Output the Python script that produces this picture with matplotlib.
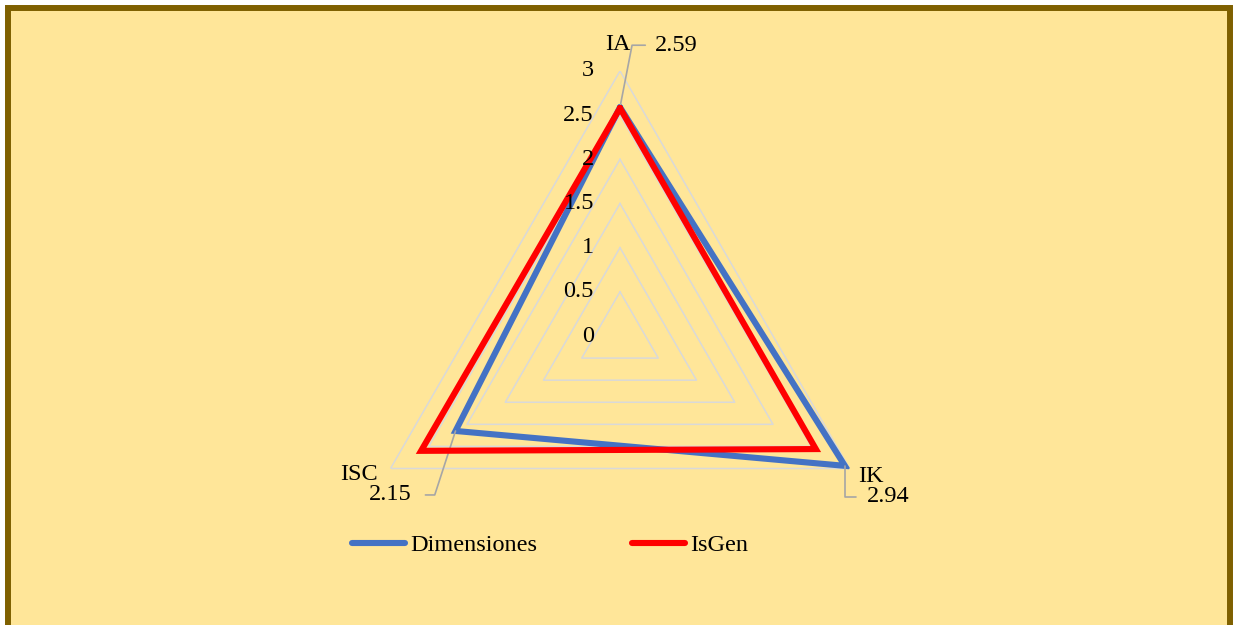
import numpy as np
import matplotlib
matplotlib.use("Agg")
import matplotlib.pyplot as plt
from matplotlib.patches import Rectangle

plt.rcParams['font.family'] = ['Liberation Serif', 'DejaVu Serif']

# datos
categorias = ['IA', 'IK', 'ISC']
dimensiones = [2.59, 2.94, 2.15]
isgen = [2.58, 2.56, 2.60]
niveles = [0.5, 1, 1.5, 2, 2.5, 3]
etiquetas_r = ['0', '0.5', '1', '1.5', '2', '2.5', '3']

W, H = 1233, 625
fig = plt.figure(figsize=(W / 100, H / 100), dpi=100, facecolor='white')

# fondo amarillo con borde marron
fig.patches.append(Rectangle((8 / W, -10 / H), 1222 / W, (H + 2) / H,
                             transform=fig.transFigure, facecolor='#FFE699',
                             edgecolor='#7F6000', linewidth=4.3, zorder=-5))

# ejes polares: centro en (620, 336) px, radio 265 px para r=3
cx, cy, R = 620, 336, 265
ax = fig.add_axes([(cx - R) / W, (H - cy - R) / H, 2 * R / W, 2 * R / H],
                  projection='polar')
ax.set_zorder(2)
ax.patch.set_alpha(0)
ax.grid(False)
ax.spines['polar'].set_visible(False)
ax.set_xticks([])
ax.set_yticks([])
ax.set_ylim(0, 3)

theta = np.deg2rad([90, -30, 210])
th = np.append(theta, theta[0])

for v in niveles:
    ax.plot(th, [v] * 4, color='#D9D9D9', lw=1.1, zorder=1)

ax.plot(th, dimensiones + dimensiones[:1], color='#4472C4', lw=4.4,
        solid_joinstyle='miter', solid_capstyle='round', zorder=3,
        label='Dimensiones')
ax.plot(th, isgen + isgen[:1], color='#FF0000', lw=4.4,
        solid_joinstyle='miter', solid_capstyle='round', zorder=4,
        label='IsGen')

fs = 17.5

# etiquetas radiales
for i, lab in enumerate(etiquetas_r):
    ax.annotate(lab, xy=(np.pi / 2, i * 0.5), xytext=(-26, 0),
                textcoords='offset pixels', ha='right', va='center',
                fontsize=fs, zorder=5)

# etiquetas de categoria
offs_cat = [(-2, 26, 'center'), (9, -8, 'left'), (-32, -6, 'center')]
for t, lab, (dx, dy, ha) in zip(theta, categorias, offs_cat):
    ax.annotate(lab, xy=(t, 3), xytext=(dx, dy), textcoords='offset pixels',
                ha=ha, va='center', fontsize=fs, annotation_clip=False)

# etiquetas de datos con lineas guia
gris = '#A6A6A6'
ax.annotate(f'{dimensiones[0]:.2f}', xy=(theta[0], dimensiones[0]),
            xytext=(35, 62), textcoords='offset pixels', ha='left', va='center',
            fontsize=fs, annotation_clip=False,
            arrowprops=dict(arrowstyle='-', color=gris, lw=1.2, shrinkA=5, shrinkB=0,
                            relpos=(0, 0.5),
                            connectionstyle='angle,angleA=0,angleB=79,rad=0'))
ax.annotate(f'{dimensiones[1]:.2f}', xy=(theta[1], dimensiones[1]),
            xytext=(22, -31), textcoords='offset pixels', ha='left', va='center',
            fontsize=fs, annotation_clip=False,
            arrowprops=dict(arrowstyle='-', color=gris, lw=1.2, shrinkA=6, shrinkB=0,
                            relpos=(0, 0.5),
                            connectionstyle='angle,angleA=0,angleB=90,rad=0'))
ax.annotate(f'{dimensiones[2]:.2f}', xy=(theta[2], dimensiones[2]),
            xytext=(-44, -64), textcoords='offset pixels', ha='right', va='center',
            fontsize=fs, annotation_clip=False,
            arrowprops=dict(arrowstyle='-', color=gris, lw=1.2, shrinkA=8, shrinkB=0,
                            relpos=(1, 0.5),
                            connectionstyle='angle,angleA=180,angleB=72,rad=0'))

leg = fig.legend(loc='center', bbox_to_anchor=(550 / W, 1 - 545 / H), ncol=2,
                 frameon=False, fontsize=fs, handlelength=2.2, handletextpad=0.2,
                 columnspacing=3.9)

fig.savefig('out.png', dpi=100, facecolor=fig.get_facecolor())
